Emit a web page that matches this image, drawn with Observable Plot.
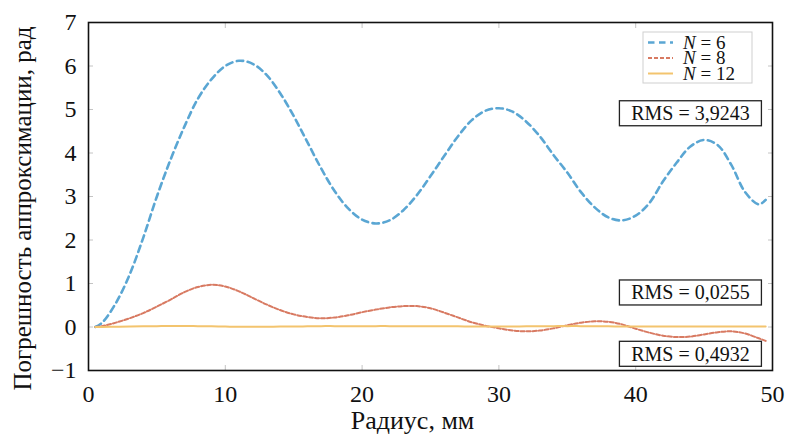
<!DOCTYPE html>
<html><head><meta charset="utf-8">
<script src="https://cdn.jsdelivr.net/npm/d3@7"></script>
<script src="https://cdn.jsdelivr.net/npm/@observablehq/plot@0.6"></script>
<style>body{margin:0;background:#fff}</style>
</head><body><div id="chart"></div>
<script>
const radius = [0.5,1,2,3,4,5,6,7,8,9,10,11,12,13,14,15,16,17,18,19,20,21,22,23,24,25,26,27,28,29,30,31,32,33,34,35,36,37,38,39,40,41,42,43,44,45,46,47,48,49,49.5];
const errN6 = [0,0.1,0.55,1.2,2.05,3.0,3.85,4.6,5.25,5.7,6.0,6.12,6.05,5.8,5.38,4.85,4.25,3.65,3.12,2.72,2.47,2.38,2.45,2.68,3.03,3.47,3.93,4.38,4.75,4.97,5.03,4.95,4.72,4.38,3.95,3.55,3.1,2.75,2.52,2.45,2.56,2.85,3.35,3.78,4.15,4.3,4.18,3.72,3.1,2.82,2.92];
const errN8 = [0,0.02,0.1,0.2,0.32,0.47,0.63,0.8,0.92,0.97,0.93,0.82,0.67,0.52,0.39,0.29,0.23,0.2,0.22,0.27,0.34,0.4,0.45,0.48,0.48,0.43,0.33,0.22,0.11,0.03,-0.03,-0.08,-0.1,-0.08,-0.03,0.04,0.1,0.13,0.12,0.06,-0.04,-0.13,-0.2,-0.23,-0.22,-0.17,-0.12,-0.1,-0.15,-0.26,-0.32];
const errN12 = [0,0,0.005,0.01,0.015,0.02,0.025,0.025,0.02,0.015,0.01,0.005,0.005,0.005,0.01,0.01,0.015,0.02,0.02,0.02,0.02,0.02,0.02,0.015,0.015,0.015,0.015,0.015,0.01,0.01,0.01,0.01,0.015,0.015,0.02,0.02,0.02,0.015,0.015,0.01,0.01,0.01,0.01,0.01,0.01,0.01,0.01,0.01,0.01,0.01,0.01];
const seriesNames = ["6","8","12"];
const rmsLabels = ["RMS = 3,9243","RMS = 0,0255","RMS = 0,4932"];
const rmsAt = [4.9, 0.78, -0.63];
const xTicks = [0,10,20,30,40,50];
const yTicks = [-1,0,1,2,3,4,5,6,7];
const xLabel = "Радиус, мм";
const yLabel = "Погрешность аппроксимации, рад";

const colors = ["#5aa6d3","#d87a62","#f3c46e"];
const dashes = ["6.5,4.5","4,2",null];
const widths = [2.6,2,2];
const values = [errN6, errN8, errN12];
const rows = values.map(v => radius.map((r,i) => ({r, e: v[i]})));

const font = "Liberation Serif, DejaVu Serif, serif";
const inner = [10,20,30,40];
const innerY = [0,1,2,3,4,5,6];

const chart = Plot.plot({
  width: 789, height: 447,
  marginLeft: 88, marginRight: 17, marginTop: 22, marginBottom: 77,
  style: {fontFamily: font, fontSize: "24px", color: "#111", background: "#fff"},
  x: {domain: [0,50]},
  y: {domain: [-1,7]},
  marks: [
    Plot.axisX(xTicks, {anchor: "bottom", tickSize: 0, tickPadding: 14, label: null, fill: "#111", fontSize: 24, fontFamily: font}),
    Plot.axisX(inner, {anchor: "bottom", tickSize: -5, text: null, label: null, stroke: "#c4c4c4"}),
    Plot.axisX(inner, {anchor: "top", tickSize: -5, text: null, label: null, stroke: "#c4c4c4"}),
    Plot.axisY(yTicks, {anchor: "left", tickSize: 0, tickPadding: 12, label: null, fill: "#111", fontSize: 24, fontFamily: font}),
    Plot.axisY(innerY, {anchor: "left", tickSize: -5, text: null, label: null, stroke: "#c4c4c4"}),
    Plot.axisY(innerY, {anchor: "right", tickSize: -5, text: null, label: null, stroke: "#c4c4c4"}),
    ...rows.map((d,i) => Plot.line(d, {x: "r", y: "e", stroke: colors[i], strokeWidth: widths[i], strokeDasharray: dashes[i], curve: "catmull-rom"})),
    Plot.text(rmsLabels, {x: () => 44, y: (d,i) => rmsAt[i], text: d => d, fontSize: 20, fontFamily: font, fill: "#111", ariaLabel: () => "rms"}),
    Plot.text([xLabel], {frameAnchor: "bottom", textAnchor: "middle", dx: -18, dy: 58, fontSize: 26, fontFamily: font, fill: "#111"}),
    Plot.text([yLabel], {frameAnchor: "left", textAnchor: "middle", rotate: -90, dx: -66, dy: 12, fontSize: 25, fontFamily: font, fill: "#111"}),
    Plot.frame({stroke: "#111", strokeWidth: 1.6})
  ]
});
document.getElementById("chart").appendChild(chart);

const svg = d3.select(chart);
// boxes around RMS annotations
svg.selectAll("text[aria-label=rms]").each(function(d, i) {
  const b = this.getBBox();
  const cx = b.x + b.width / 2;
  const cy = b.y + b.height / 2;
  const tr = this.getAttribute("transform");
  const r = d3.select(this.parentNode).insert("rect", "text")
    .attr("x", cx - 71).attr("y", cy - 12.5).attr("width", 142).attr("height", 25)
    .attr("fill", "#fff").attr("stroke", "#222").attr("stroke-width", 1.3);
  if (tr) r.attr("transform", tr);
});
// legend
const lg = svg.append("g").attr("transform", "translate(643,32)").attr("font-family", font).attr("text-anchor", "start");
lg.append("rect").attr("width", 109).attr("height", 51).attr("fill", "#fff").attr("stroke", "#cfcfcf");
seriesNames.forEach((n, i) => {
  const yy = 10.5 + i * 15.5;
  lg.append("line").attr("x1", 5).attr("x2", 30).attr("y1", yy).attr("y2", yy)
    .attr("stroke", colors[i]).attr("stroke-width", widths[i]).attr("stroke-dasharray", dashes[i]);
  const t = lg.append("text").attr("x", 40).attr("y", yy).attr("dy", "0.32em").attr("font-size", 19).attr("fill", "#111");
  t.append("tspan").attr("font-style", "italic").text("N");
  t.append("tspan").text(" = " + n);
});
</script>
</body></html>
